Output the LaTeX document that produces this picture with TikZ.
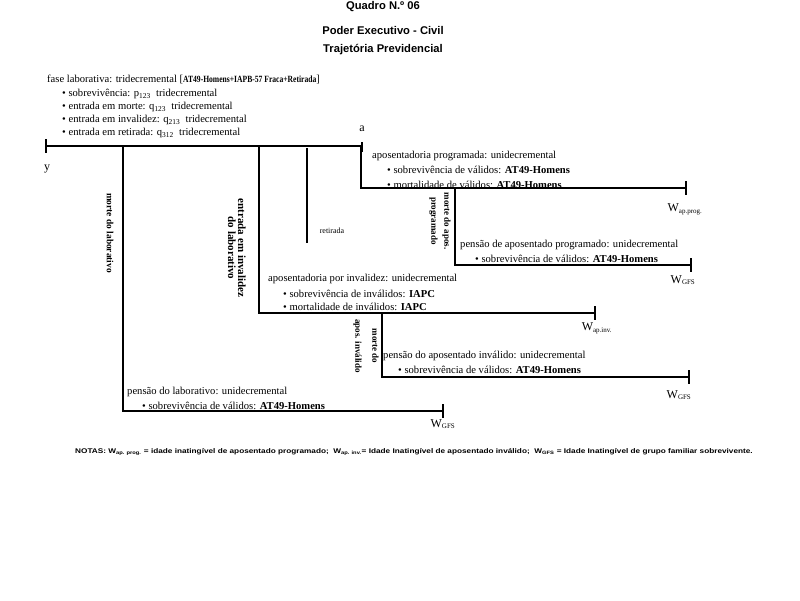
\documentclass[tikz,border=0pt]{standalone}
\usepackage{fontspec}
\setmainfont{Liberation Serif}
\setsansfont{Liberation Sans}
\begin{document}
\begin{tikzpicture}[x=1pt,y=-1pt,
  ln/.style={line width=1.1pt},
  tk/.style={line width=2pt},
  txt/.style={anchor=west,inner sep=0pt,font=\fontsize{10.6}{12}\selectfont},
  ttl/.style={inner sep=0pt,font=\sffamily\bfseries\fontsize{11.2}{13}\selectfont},
  wlab/.style={inner sep=0pt,font=\fontsize{12}{14}\selectfont},
  vlab/.style={inner sep=0pt,rotate=-90,align=center}]
\useasboundingbox (0,0) rectangle (800,600);
% titles
\node[ttl] (title1) at (383,7) {Quadro N.º 06};
\node[ttl] (title2) at (383,30) {Poder Executivo - Civil};
\node[ttl] (title3) at (383,50) {Trajetória Previdencial};
% laborative phase text
\node[txt] (fase0) at (47,79) {fase laborativa: tridecremental [\scalebox{0.8}[1]{\bfseries\fontsize{9.5}{10}\selectfont AT49-Homens+IAPB-57 Fraca+Retirada}]};
\node[txt] (fase1) at (62,94) {\textbullet\ sobrevivência: p\textsubscript{123}\ \ tridecremental};
\node[txt] (fase2) at (62,107) {\textbullet\ entrada em morte: q\textsubscript{123}\ \ tridecremental};
\node[txt] (fase3) at (62,120) {\textbullet\ entrada em invalidez: q\textsubscript{213}\ \ tridecremental};
\node[txt] (fase4) at (62,133) {\textbullet\ entrada em retirada: q\textsubscript{312}\ \ tridecremental};
\node[inner sep=0pt,font=\fontsize{12}{14}\selectfont] (labela) at (362,129) {a};
\node[inner sep=0pt,font=\fontsize{12}{14}\selectfont] (labely) at (47,169) {y};
% coordinates
\coordinate (y0) at (46,146);
\coordinate (a0) at (362,146);
\coordinate (b1) at (123,146); \coordinate (e1) at (443,411);
\coordinate (b2) at (259,146); \coordinate (e2) at (595,313);
\coordinate (r1) at (307,148); \coordinate (r2) at (307,243);
\coordinate (b3) at (361,146); \coordinate (e3) at (686,188);
\coordinate (b4) at (455,188); \coordinate (e4) at (691,265);
\coordinate (b5) at (382,313); \coordinate (e5) at (689,377);
% lines
\draw[ln] (y0) -- (a0);
\draw[ln] (b1) |- (e1);
\draw[ln] (b2) |- (e2);
\draw[ln] (r1) -- (r2);
\draw[ln] (b3) |- (e3);
\draw[ln] (b4) |- (e4);
\draw[ln] (b5) |- (e5);
% ticks
\draw[tk] ([yshift=7pt]y0) -- ([yshift=-7pt]y0);
\draw[tk] ([yshift=4pt]a0) -- ([yshift=-6pt]a0);
\foreach \pt in {e1,e2,e3,e4,e5}
  \draw[tk] ([yshift=7pt]\pt) -- ([yshift=-7pt]\pt);
% end labels
\node[wlab] (wend1) at (443,424) {W\textsubscript{\fontsize{7}{8}\selectfont GFS}};
\node[wlab] (wend2) at (597,328) {W\textsubscript{\fontsize{7}{8}\selectfont ap.inv.}};
\node[wlab] (wend3) at (685,209) {W\textsubscript{\fontsize{7}{8}\selectfont ap.prog.}};
\node[wlab] (wend4) at (683,280) {W\textsubscript{\fontsize{7}{8}\selectfont GFS}};
\node[wlab] (wend5) at (679,395) {W\textsubscript{\fontsize{7}{8}\selectfont GFS}};
% vertical labels
\node[vlab,font=\bfseries\fontsize{9.4}{10}\selectfont] (vert1) at (110,233) {morte do laborativo};
\node[vlab,font=\bfseries\fontsize{11}{10}\selectfont] (vert2) at (237,248) {entrada em invalidez\\do laborativo};
\node[vlab,font=\bfseries\fontsize{9}{13}\selectfont] (vert3) at (440,221) {morte do apos.\\programado};
\node[vlab,font=\bfseries\fontsize{9}{17}\selectfont] (vert4) at (366,346) {morte do\\apos. inválido};
\node[inner sep=0pt,font=\fontsize{8}{9}\selectfont] (retlab) at (332,231) {retirada};
% aposentadoria programada
\node[txt] (approg0) at (372,156) {aposentadoria programada: unidecremental};
\node[txt] (approg1) at (387,170) {\textbullet\ sobrevivência de válidos: \textbf{AT49-Homens}};
\node[txt] (approg2) at (387,185) {\textbullet\ mortalidade de válidos: \textbf{AT49-Homens}};
% pensão de aposentado programado
\node[txt] (penprog0) at (460,245) {pensão de aposentado programado: unidecremental};
\node[txt] (penprog1) at (475,259) {\textbullet\ sobrevivência de válidos: \textbf{AT49-Homens}};
% aposentadoria por invalidez
\node[txt] (apinv0) at (268,279) {aposentadoria por invalidez: unidecremental};
\node[txt] (apinv1) at (283,294) {\textbullet\ sobrevivência de inválidos: \textbf{IAPC}};
\node[txt] (apinv2) at (283,307) {\textbullet\ mortalidade de inválidos: \textbf{IAPC}};
% pensão do aposentado inválido
\node[txt] (peninv0) at (383,356) {pensão do aposentado inválido: unidecremental};
\node[txt] (peninv1) at (398,370) {\textbullet\ sobrevivência de válidos: \textbf{AT49-Homens}};
% pensão do laborativo
\node[txt] (penlab0) at (127,392) {pensão do laborativo: unidecremental};
\node[txt] (penlab1) at (142,406) {\textbullet\ sobrevivência de válidos: \textbf{AT49-Homens}};
% notes
\node[anchor=west,inner sep=0pt] (notas) at (75,452)
 {\scalebox{1.21}[1]{\sffamily\bfseries\fontsize{6.8}{7}\selectfont NOTAS: W\textsubscript{ap. prog.} = idade inatingível de aposentado programado;\ \ W\textsubscript{ap. inv.}= Idade Inatingível de aposentado inválido;\ \ W\textsubscript{GFS} = Idade Inatingível de grupo familiar sobrevivente.}};
\end{tikzpicture}
\end{document}
